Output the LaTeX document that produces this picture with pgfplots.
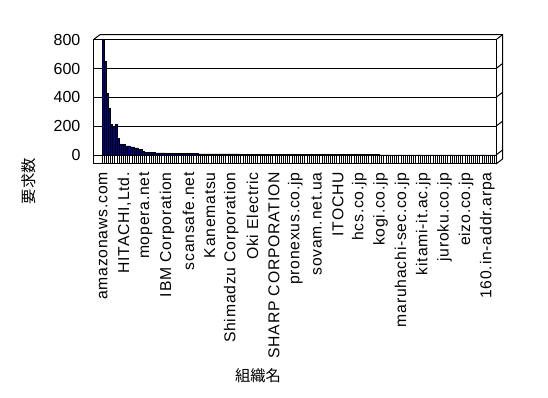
\documentclass[border=0pt]{standalone}
\usepackage{pgfplots}
\pgfplotsset{compat=1.18}
\usepackage{pgfplotstable}
\usepackage{fontspec}
\setmainfont{Liberation Sans}
\newfontfamily\xlab{Liberation Sans}[LetterSpace=5]
\newfontfamily\cjk{Noto Sans CJK JP}
\definecolor{barblue}{RGB}{0,0,128}

\pgfplotstableread{
y
795
648
431
327
210
198
210
117
77
72
72
63
63
56
56
49
49
40
40
26
18
17
17
16
16
15
15
15
14
14
13
12
9
9
9
9
9
9
9
9
9
9
9
9
9
8
8
8
8
8
8
8
8
8
8
7
7
7
7
7
7
7
7
7
3
3
3
3
3
3
3
3
3
3
3
3
3
3
3
3
3
3
3
3
3
3
3
3
3
3
2
2
2
2
2
2
2
2
2
2
2
2
2
2
2
2
2
2
2
2
2
2
2
2
2
2
2
2
2
2
2
2
2
2
2
2
2
2
2
2
1
1
1
1
1
1
1
1
1
1
1
1
1
1
1
1
1
1
1
1
1
1
1
1
1
1
1
1
1
1
1
1
1
1
1
1
1
1
1
1
1
1
1
1
1
1
1
1
1
1
1
1
1
1
}\reqdata

\begin{document}
\begin{tikzpicture}
\path[use as bounding box] (-70pt,-175.5pt) rectangle (341pt,123pt);
\begin{axis}[
  at={(0,0)}, anchor=south west,
  scale only axis, width=302pt, height=93.2pt,
  xmin=-4.575, xmax=184.05, ymin=-62.4, ymax=800,
  clip=false,
  axis line style={black, line width=0.75pt},
  ytick={0,200,400,600,800},
  ymajorgrids, grid style={black, line width=0.75pt},
  xtick={0,10,...,180},
  xticklabels={amazonaws.com,{HITACHI,Ltd.},mopera.net,IBM Corporation,scansafe.net,Kanematsu,Shimadzu Corporation,Oki Electric,SHARP CORPORATION,pronexus.co.jp,sovam.net.ua,ITOCHU,hcs.co.jp,kogi.co.jp,maruhachi-sec.co.jp,kitami-it.ac.jp,juroku.co.jp,eizo.co.jp,160.in-addr.arpa},
  minor xtick={-0.5,0.5,...,183.5},
  xtick pos=bottom, ytick pos=left,
  xtick align=inside,
  major tick length=0pt,
  minor tick length=6.75pt,
  minor tick style={black, line width=0.6pt},
  /pgf/number format/assume math mode=true,
  tick label style={font=\fontsize{12}{14}\selectfont},
  yticklabel style={anchor=east, inner sep=0pt, xshift=-9.5pt},
  xticklabel style={rotate=90, anchor=east, inner sep=0pt, xshift=-6pt, font=\fontsize{11.8}{14}\selectfont\xlab},
]
\addplot[ybar, bar width=1, fill=barblue, draw=black, line width=0.4pt]
  table[x expr=\coordindex, y=y] {\reqdata};
% 3D frame decorations
\draw[black, line width=0.75pt] (axis cs:-4.575,800) -- ++(4.9pt,3.75pt) -| ([shift={(4.9pt,3.75pt)}]axis cs:184.05,-62.4) -- (axis cs:184.05,-62.4);
\draw[black, line width=0.75pt] (axis cs:184.05,800) -- ++(4.9pt,3.75pt);
\draw[black, line width=0.75pt] (axis cs:184.05,600) -- ++(4.9pt,3.75pt);
\draw[black, line width=0.75pt] (axis cs:184.05,400) -- ++(4.9pt,3.75pt);
\draw[black, line width=0.75pt] (axis cs:184.05,200) -- ++(4.9pt,3.75pt);
\draw[black, line width=0.75pt] (axis cs:184.05,0) -- ++(4.9pt,3.75pt);
\end{axis}
\node[rotate=90, font=\fontsize{11.5}{13}\selectfont\cjk] at (-48.2pt,-13pt) {要求数};
\node[font=\fontsize{11.5}{13}\selectfont\cjk] at (123.5pt,-159pt) {組織名};
\end{tikzpicture}
\end{document}
